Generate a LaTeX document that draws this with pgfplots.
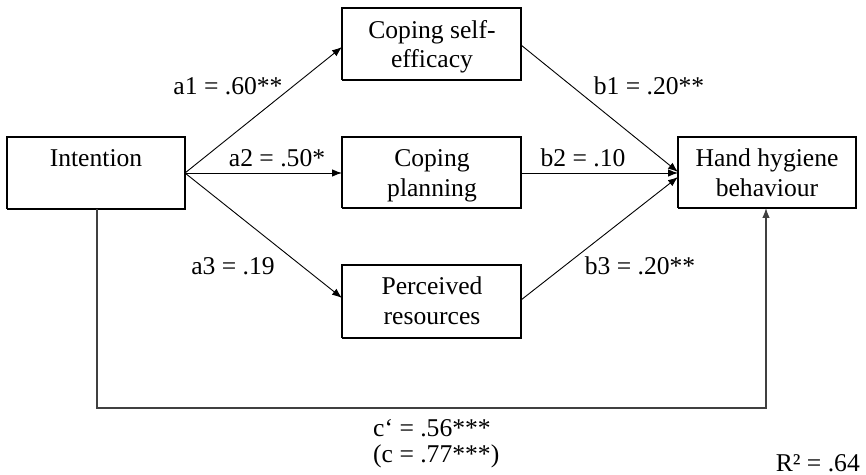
\documentclass[border=0pt]{standalone}
\usepackage{fontspec}
\setmainfont{Liberation Serif}
\usepackage{pgfplots}
\pgfplotsset{compat=1.18}
\usetikzlibrary{arrows.meta}
\begin{document}
\begin{tikzpicture}[t/.style={anchor=base,inner sep=0pt,font=\fontsize{25.7}{30}\selectfont}]
\begin{axis}[width=866bp,height=475bp,scale only axis,xmin=0,xmax=866,ymin=0,ymax=475,hide axis,clip=false]
\addplot[draw=none] coordinates {(0,0) (866,475)};
% boxes
\addplot[black,line width=1.5bp,no marks] coordinates {(7,266) (185,266) (185,338) (7,338) (7,266)};
\addplot[black,line width=1.5bp,no marks] coordinates {(342,395) (521,395) (521,467) (342,467) (342,395)};
\addplot[black,line width=1.5bp,no marks] coordinates {(342,267) (521,267) (521,338) (342,338) (342,267)};
\addplot[black,line width=1.5bp,no marks] coordinates {(342,137) (521,137) (521,210) (342,210) (342,137)};
\addplot[black,line width=1.5bp,no marks] coordinates {(678,267) (856,267) (856,338) (678,338) (678,267)};
% arrows
\addplot[black,line width=0.9bp,no marks,-{Latex[length=10bp,width=7.5bp]}] coordinates {(185,302) (342,428)};
\addplot[black,line width=0.9bp,no marks,-{Latex[length=10bp,width=7.5bp]}] coordinates {(185,302) (342,302)};
\addplot[black,line width=0.9bp,no marks,-{Latex[length=10bp,width=7.5bp]}] coordinates {(185,302) (342,177)};
\addplot[black,line width=0.9bp,no marks,-{Latex[length=10bp,width=7.5bp]}] coordinates {(521,430) (678,303)};
\addplot[black,line width=0.9bp,no marks,-{Latex[length=10bp,width=7.5bp]}] coordinates {(521,302) (678,302)};
\addplot[black,line width=0.9bp,no marks,-{Latex[length=10bp,width=7.5bp]}] coordinates {(521,175) (678,298)};
\addplot[black!75,line width=1.2bp,no marks,-{Latex[length=10bp,width=7.5bp]}] coordinates {(97,266) (97,67) (766,67) (766,267)};
% box texts
\node[t] at (axis cs:96,308) {Intention};
\node[t] at (axis cs:432,436) {Coping self-};
\node[t] at (axis cs:432,407) {efficacy};
\node[t] at (axis cs:432,308) {Coping};
\node[t] at (axis cs:432,278) {planning};
\node[t] at (axis cs:432,180) {Perceived};
\node[t] at (axis cs:432,150) {resources};
\node[t] at (axis cs:767,308) {Hand hygiene};
\node[t] at (axis cs:767,278) {behaviour};
% path labels
\node[t] at (axis cs:228,380) {a1 = .60**};
\node[t] at (axis cs:277,308) {a2 = .50*};
\node[t] at (axis cs:233,200) {a3 = .19};
\node[t] at (axis cs:649,380) {b1 = .20**};
\node[t] at (axis cs:583,308) {b2 = .10};
\node[t] at (axis cs:640,200) {b3 = .20**};
\node[t,anchor=base west] at (axis cs:373,38) {c‘ = .56***};
\node[t,anchor=base west] at (axis cs:373,13) {(c = .77***)};
\node[t,anchor=base east] at (axis cs:860,4) {R² = .64};
\end{axis}
\end{tikzpicture}
\end{document}
